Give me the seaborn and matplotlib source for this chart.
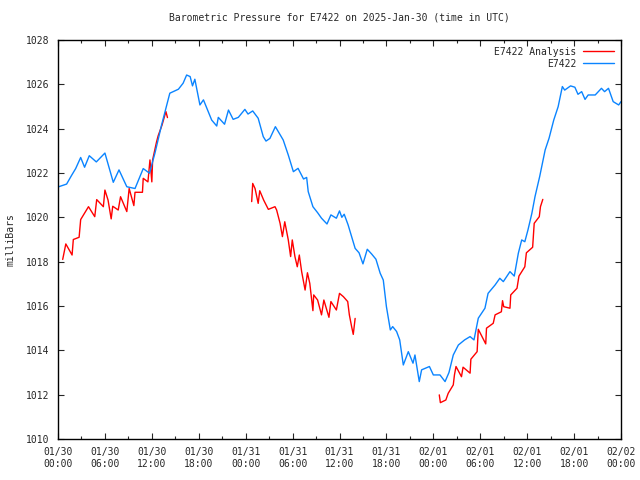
import pandas as pd
import matplotlib
matplotlib.use("Agg")
import matplotlib.pyplot as plt
import matplotlib.dates as mdates
import seaborn as sns

# Hours since 2025-01-30 00:00 UTC and pressure (mbar)
obs_hours = [0, 1.1, 1.75, 2.26, 2.9, 3.4, 4.0, 4.9, 6.0, 7.07, 7.8, 8.8, 9.85,
             10.9, 11.7, 12.4, 13.25, 14.3, 15.4, 16.0, 16.45, 16.9, 17.2, 17.5,
             18.15, 18.6, 19.65, 20.3, 20.5, 21.3, 21.8, 22.4, 23.06, 23.9,
             24.3, 24.9, 25.6, 26.25, 26.6, 27.1, 27.8, 28.8, 29.45, 30.1, 30.7,
             31.4, 31.8, 32.0, 32.6, 33.2, 33.7, 34.4, 34.9, 35.6, 36.0, 36.3,
             36.6, 37.1, 37.55, 38.0, 38.5, 39.0, 39.55, 40.1, 40.66, 41.2,
             41.6, 42.0, 42.5, 42.8, 43.3, 43.7, 44.16, 44.8, 45.4, 45.65, 46.2,
             46.5, 47.5, 48.0, 48.85, 49.5, 50.0, 50.55, 51.2, 52.0, 52.7, 53.2,
             53.75, 54.6, 55.0, 55.9, 56.5, 56.95, 57.8, 58.35, 58.87, 59.3,
             59.7, 60.1, 60.6, 61.0, 61.6, 62.3, 62.8, 63.4, 63.96, 64.5, 64.8,
             65.55, 66.1, 66.5, 66.97, 67.4, 67.8, 68.7, 69.5, 69.9, 70.4, 71.0,
             71.7, 72.0]
obs_mbar = [1021.37, 1021.5, 1021.9, 1022.2, 1022.7, 1022.26, 1022.78, 1022.5,
            1022.9, 1021.58, 1022.14, 1021.38, 1021.3, 1022.2, 1021.99, 1022.9,
            1024.17, 1025.6, 1025.78, 1026.05, 1026.42, 1026.35, 1025.93,
            1026.23, 1025.07, 1025.3, 1024.39, 1024.12, 1024.51, 1024.2,
            1024.84, 1024.42, 1024.51, 1024.87, 1024.66, 1024.8, 1024.47,
            1023.64, 1023.44, 1023.56, 1024.09, 1023.49, 1022.81, 1022.06,
            1022.21, 1021.73, 1021.8, 1021.16, 1020.48, 1020.21, 1019.96,
            1019.70, 1020.11, 1019.96, 1020.29, 1020.0, 1020.14, 1019.66,
            1019.13, 1018.6, 1018.4, 1017.9, 1018.56, 1018.35, 1018.11,
            1017.48, 1017.17, 1015.97, 1014.92, 1015.07, 1014.85, 1014.47,
            1013.34, 1013.94, 1013.42, 1013.79, 1012.59, 1013.12, 1013.27,
            1012.89, 1012.89, 1012.59, 1013.0, 1013.79, 1014.24, 1014.47,
            1014.62, 1014.47, 1015.45, 1015.9, 1016.57, 1016.95, 1017.25,
            1017.1, 1017.55, 1017.35, 1018.38, 1018.98, 1018.9, 1019.43,
            1020.18, 1020.93, 1021.84, 1023.04, 1023.57, 1024.39, 1024.99,
            1025.9, 1025.74, 1025.93, 1025.87, 1025.55, 1025.67, 1025.32,
            1025.52, 1025.52, 1025.82, 1025.67, 1025.82, 1025.22, 1025.07,
            1025.22]

# Analysis series, three separate runs
ana1_hours = [0.6, 1.0, 1.8, 1.96, 2.7, 2.9, 3.9, 4.7, 4.95, 5.8, 6.0, 6.4, 6.8,
              7.0, 7.7, 8.0, 8.8, 9.1, 9.7, 9.85, 10.8, 10.9, 11.5, 11.76,
              12.0, 12.1, 12.6, 12.8, 13.3, 13.8, 14.0]
ana1_mbar = [1018.1, 1018.8, 1018.3, 1019.0, 1019.1, 1019.9, 1020.48, 1020.03,
             1020.8, 1020.48, 1021.23, 1020.78, 1019.93, 1020.5, 1020.33,
             1020.93, 1020.26, 1021.3, 1020.53, 1021.13, 1021.13, 1021.76,
             1021.6, 1022.59, 1021.6, 1022.59, 1023.4, 1023.67, 1024.16,
             1024.77, 1024.5]
ana2_hours = [24.77, 24.9, 25.2, 25.6, 25.8, 26.3, 26.9, 27.75, 27.96, 28.4,
              28.7, 29.0, 29.45, 29.75, 29.96, 30.3, 30.6, 30.86, 31.16, 31.6,
              31.9, 32.2, 32.6, 32.7, 33.2, 33.7, 34.0, 34.65, 34.9, 35.6, 36.0,
              36.5, 37.05, 37.26, 37.55, 37.76, 38.0]
ana2_mbar = [1020.71, 1021.53, 1021.3, 1020.63, 1021.2, 1020.78, 1020.36,
             1020.48, 1020.33, 1019.73, 1019.13, 1019.8, 1018.98, 1018.23,
             1018.98, 1018.23, 1017.77, 1018.3, 1017.55, 1016.72, 1017.5,
             1017.02, 1015.79, 1016.5, 1016.27, 1015.6, 1016.27, 1015.49,
             1016.2, 1015.82, 1016.57, 1016.42, 1016.2, 1015.6, 1015.07,
             1014.72, 1015.44]
ana3_hours = [48.76, 48.9, 49.6, 49.9, 50.55, 50.7, 50.9, 51.6, 51.8, 52.7,
              52.8, 53.6, 53.75, 54.7, 54.8, 55.66, 55.9, 56.7, 56.85, 57.0,
              57.8, 57.9, 58.7, 58.95, 59.7, 59.9, 60.7, 60.9, 61.55, 61.7, 62.0]
ana3_mbar = [1011.99, 1011.64, 1011.76, 1012.06, 1012.44, 1012.89, 1013.27,
             1012.81, 1013.24, 1012.97, 1013.6, 1013.94, 1014.95, 1014.29,
             1015.0, 1015.22, 1015.6, 1015.74, 1016.24, 1015.97, 1015.9,
             1016.5, 1016.8, 1017.35, 1017.77, 1018.4, 1018.65, 1019.73,
             1020.03, 1020.48, 1020.81]

start = pd.Timestamp("2025-01-30 00:00")


def to_df(hours, mbar):
    return pd.DataFrame({"time": start + pd.to_timedelta(hours, unit="h"),
                         "mbar": mbar})


sns.set_style("ticks")
plt.rcParams["font.family"] = ["DejaVu Sans Mono"]
plt.rcParams["font.size"] = 7

fig = plt.figure(figsize=(6.4, 4.8), dpi=100)
ax = fig.add_axes([58 / 640, 41 / 480, 563 / 640, 399 / 480])

red = "#ff0000"
blue = "#0a84ff"

segs = [(ana1_hours, ana1_mbar), (ana2_hours, ana2_mbar), (ana3_hours, ana3_mbar)]
for i, (h, m) in enumerate(segs):
    sns.lineplot(data=to_df(h, m), x="time", y="mbar", ax=ax, color=red, lw=1,
                 label="E7422 Analysis" if i == 0 else None)
sns.lineplot(data=to_df(obs_hours, obs_mbar), x="time", y="mbar", ax=ax,
             color=blue, lw=1, label="E7422")

ax.set_xlim(start, start + pd.Timedelta(hours=72))
ax.set_ylim(1010, 1028)
ax.set_yticks(range(1010, 1029, 2))
ax.xaxis.set_major_locator(mdates.HourLocator(byhour=[0, 6, 12, 18]))
ax.xaxis.set_minor_locator(mdates.HourLocator(byhour=[3, 9, 15, 21]))
ax.xaxis.set_major_formatter(mdates.DateFormatter("%m/%d\n%H:%M"))
ax.tick_params(which="both", direction="in", top=True, right=True,
               labelsize=7, width=0.8, pad=6)
ax.tick_params(which="major", length=4.5)
ax.tick_params(which="minor", length=2.5)
for s in ax.spines.values():
    s.set_linewidth(1)
    s.set_color("black")

ax.set_xlabel("")
ax.set_ylabel("milliBars", fontsize=7, labelpad=8)
ax.set_title("Barometric Pressure for E7422 on 2025-Jan-30 (time in UTC)",
             fontsize=7, pad=14)

leg = ax.legend(loc="upper right", frameon=False, markerfirst=False,
                fontsize=7, handlelength=3.2, handletextpad=0.7,
                labelspacing=0.2, borderaxespad=0.3)
for t in leg.get_texts():
    t.set_ha("right")

fig.savefig("out.png", dpi=100)
